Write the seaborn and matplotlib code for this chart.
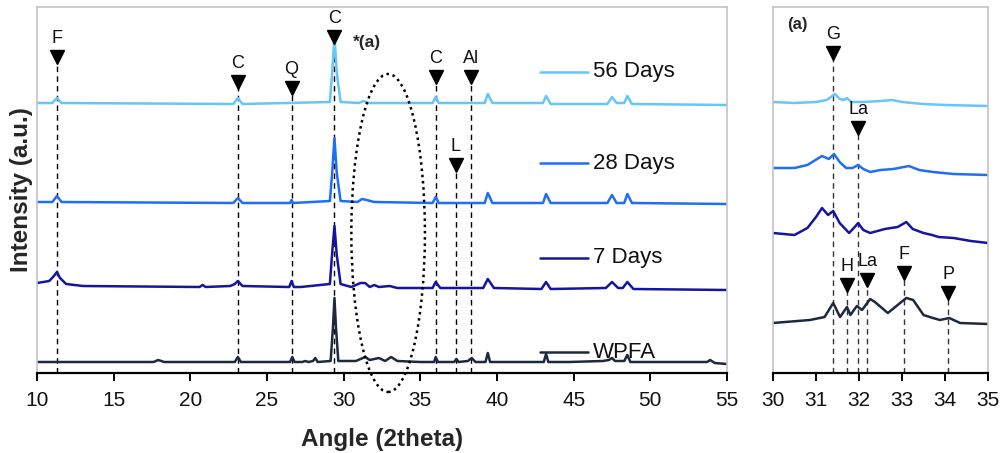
import matplotlib
matplotlib.use("Agg")
import matplotlib.pyplot as plt
from matplotlib.patches import Ellipse
import seaborn as sns

# ---------------- data (intensity in arbitrary units) ----------------
series_names = ["WPFA", "7 Days", "28 Days", "56 Days"]

# main panel 10-55 deg
wpfa_x = [10, 17.6, 17.9, 18.3, 22.9, 23.1, 23.3, 25.7, 26.5, 26.65, 26.8, 27.3, 27.5, 27.7, 28.0, 28.15, 28.3,
          29.15, 29.3, 29.4, 29.5, 29.65, 30.8, 31.4, 31.7, 32.3, 32.7, 33.1, 33.5, 35.0, 35.9, 36.0, 36.15,
          37.2, 37.35, 37.5, 38.1, 38.35, 38.6, 39.25, 39.4, 39.55, 41.2, 43.05, 43.2, 43.35, 44.7, 46.9, 47.3,
          47.5, 47.7, 48.3, 48.5, 48.7, 53.7, 53.9, 54.2, 55]
wpfa_y = [11, 11, 13, 11, 11, 16, 11, 11, 11, 16, 11, 11, 12, 11, 12, 15, 11,
          12, 45, 75, 45, 12, 12, 16, 13, 15, 12, 16, 12, 11, 11, 16, 11,
          11, 14, 11, 12, 15, 11, 11, 20, 11, 11, 11, 19, 11, 11, 12, 13,
          15, 12, 12, 18, 11, 11, 13, 10, 9]

d7_x = [10, 10.8, 11.1, 11.3, 11.5, 11.9, 13, 20.6, 20.8, 21.0, 22.6, 22.9, 23.1, 23.4, 26.45, 26.6, 26.75,
        27.2, 29.1, 29.25, 29.4, 29.55, 29.8, 30.5, 31.1, 31.4, 31.7, 32.0, 32.3, 33.0, 33.5, 35.8, 36.0, 36.3,
        39.1, 39.4, 39.8, 42.9, 43.2, 43.5, 47.1, 47.5, 47.9, 48.2, 48.5, 48.9, 55]
d7_y = [90, 92, 97, 101, 95, 89, 87, 86, 88, 86, 87, 89, 92, 87, 86, 92, 86,
        86, 89, 120, 147, 118, 89, 86, 90, 90, 86, 88, 86, 87, 85, 85, 91, 85,
        85, 94, 85, 84, 91, 84, 85, 91, 85, 85, 91, 84, 83]

d28_x = [10, 11.0, 11.3, 11.6, 22.8, 23.1, 23.4, 26.5, 26.6, 26.7, 29.1, 29.25, 29.4, 29.55, 29.8, 30.9,
         31.2, 31.5, 32.0, 35.8, 36.0, 36.2, 39.2, 39.4, 39.7, 43.0, 43.2, 43.5, 47.2, 47.5, 47.8, 48.3, 48.5,
         48.8, 55]
d28_y = [171, 171, 177, 171, 170, 175, 170, 170, 173, 170, 172, 200, 235, 200, 172, 171,
         174, 173, 171, 170, 176, 170, 170, 180, 170, 170, 179, 170, 170, 178, 170, 170, 179,
         170, 169]

d56_x = [10, 11.0, 11.3, 11.6, 22.8, 23.1, 23.4, 29.1, 29.25, 29.4, 29.55, 29.8, 31.0, 31.3, 31.6, 35.8,
         36.0, 36.2, 39.2, 39.4, 39.7, 43.0, 43.2, 43.5, 47.2, 47.5, 47.8, 48.3, 48.5, 48.8, 55]
d56_y = [270, 270, 275, 270, 269, 275, 269, 271, 300, 337, 300, 271, 270, 272, 270, 270,
         276, 270, 270, 279, 270, 270, 277, 269, 269, 276, 270, 270, 277, 269, 268]

# zoomed panel (a) 30-35 deg
z_wpfa_x = [30, 30.86, 31.2, 31.4, 31.56, 31.72, 31.8, 31.95, 32.07, 32.26, 32.37, 32.67, 33.1, 33.26, 33.5,
            33.72, 33.88, 34.1, 34.35, 35]
z_wpfa_y = [50, 53, 56, 70, 56, 66, 58, 67, 63, 74, 71, 60, 75, 73, 58,
            55, 53, 55, 50, 49]
z_d7_x = [30, 30.5, 30.8, 31.0, 31.14, 31.28, 31.4, 31.55, 31.77, 31.9, 31.98, 32.1, 32.26, 32.6, 32.9, 33.1,
          33.25, 33.5, 33.7, 33.85, 34.2, 34.6, 35]
z_d7_y = [140, 138, 145, 156, 165, 158, 162, 150, 140, 146, 150, 143, 140, 144, 146, 151,
          144, 140, 138, 136, 135, 132, 130]
z_d28_x = [30, 30.5, 30.8, 30.95, 31.14, 31.3, 31.42, 31.55, 31.7, 31.85, 31.98, 32.1, 32.26, 32.5, 32.8,
           33.16, 33.4, 33.72, 34.2, 35]
z_d28_y = [205, 205, 208, 212, 217, 214, 219, 211, 205, 205, 208, 204, 201, 203, 204,
           207, 203, 201, 199, 198]
z_d56_x = [30, 30.5, 31.0, 31.25, 31.44, 31.55, 31.65, 31.72, 31.82, 32.1, 32.5, 32.77, 33.0, 33.5, 34.0, 35]
z_d56_y = [271, 270, 271, 273, 279, 274, 273, 275, 271, 271, 272, 273, 271, 269, 268, 267]

# phase markers
main_labels = ["F", "C", "Q", "C", "C", "L", "Al"]
main_angles = [11.3, 23.1, 26.6, 29.4, 36.0, 37.3, 38.3]
main_heights = [316, 291, 285, 336, 296, 208, 296]

zoom_labels = ["G", "La", "H", "La", "F", "P"]
zoom_angles = [31.4, 31.98, 31.72, 32.19, 33.05, 34.07]
zoom_heights = [320, 245, 88, 93, 100, 80]

legend_levels = [21, 115, 210, 301]

colors = ["#1e2841", "#15159f", "#1e6ef8", "#66c6f8"]

# ---------------- figure ----------------
sns.set_theme(style="white")
plt.rcParams["font.family"] = ["Liberation Sans", "DejaVu Sans"]

fig = plt.figure(figsize=(10.03, 4.53), dpi=100)
ax = fig.add_axes([37 / 1003, 80 / 453, 690 / 1003, 366 / 453])
ax2 = fig.add_axes([773 / 1003, 80 / 453, 215 / 1003, 366 / 453])

main_data = [(wpfa_x, wpfa_y), (d7_x, d7_y), (d28_x, d28_y), (d56_x, d56_y)]
zoom_data = [(z_wpfa_x, z_wpfa_y), (z_d7_x, z_d7_y), (z_d28_x, z_d28_y), (z_d56_x, z_d56_y)]

for (xs, ys), c in zip(main_data, colors):
    sns.lineplot(x=xs, y=ys, ax=ax, color=c, linewidth=1.8, sort=False)
for (xs, ys), c in zip(zoom_data, colors):
    sns.lineplot(x=xs, y=ys, ax=ax2, color=c, linewidth=1.8, sort=False)

for a in (ax, ax2):
    a.set_ylim(0, 366)
    a.set_yticks([])
    for s in ("left", "top", "right"):
        a.spines[s].set_color("#c4c4c4")
        a.spines[s].set_linewidth(1.2)
    a.spines["bottom"].set_color("black")
    a.spines["bottom"].set_linewidth(1.6)
    a.tick_params(axis="x", direction="out", length=6, width=1.4, color="black",
                  labelsize=15, pad=7, bottom=True, labelcolor="#111111")

ax.set_xlim(10, 55)
ax.set_xticks(range(10, 56, 5))
ax2.set_xlim(30, 35)
ax2.set_xticks(range(30, 36))

ax.set_xlabel("Angle (2theta)", fontsize=17.5, fontweight="bold", labelpad=13)
ax.set_ylabel("Intensity (a.u.)", fontsize=17.5, fontweight="bold", labelpad=3)

# markers + dashed drop lines
def add_marks(a, labels, angles, heights, lc):
    for lab, xa, h in zip(labels, angles, heights):
        a.plot([xa, xa], [0, h], color=lc, linestyle=(0, (4, 3)), linewidth=1.0, zorder=1)
        a.plot([xa], [h], marker="v", markersize=10, color="black", zorder=5)
        a.annotate(lab, (xa, h), xytext=(0, 7), textcoords="offset points",
                   ha="center", va="bottom", fontsize=13, color="#111111")

add_marks(ax, main_labels, main_angles, main_heights, "black")
add_marks(ax2, zoom_labels, zoom_angles, zoom_heights, "#333333")

# legend-like labels
for name, lvl, c in zip(series_names, legend_levels, colors):
    ax.plot([42.8, 45.95], [lvl, lvl], color=c, linewidth=1.8)
    ax.text(46.25, lvl, name, fontsize=16, va="center", ha="left", color="#111111")

# ellipse highlight
ell = Ellipse((32.9, 140), width=4.8, height=318, fill=False, edgecolor="black",
              linestyle=(0, (1, 1.5)), linewidth=1.8, clip_on=False, zorder=6)
ax.add_patch(ell)

ax.text(30.6, 330, "*(a)", fontsize=12.5, fontweight="bold", va="center", ha="left")
ax2.text(30.33, 348, "(a)", fontsize=12, fontweight="bold", va="center", ha="left")

fig.savefig("out.png", dpi=100)
